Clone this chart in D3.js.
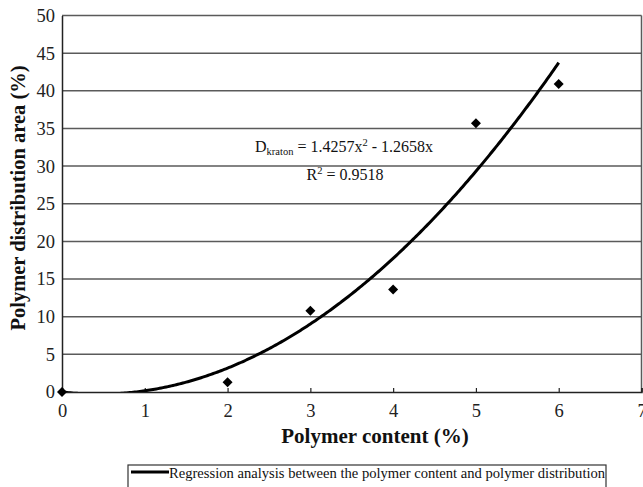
<!DOCTYPE html>
<html><head><meta charset="utf-8">
<script src="https://cdn.jsdelivr.net/npm/d3@7"></script>
<style>body{margin:0;background:#fff}svg{display:block}svg text{font-family:"Liberation Serif","Times New Roman",Times,serif !important}</style>
</head><body><svg id="c" width="643" height="487"></svg>
<script>
const xValues = [0, 2, 3, 4, 5, 6];
const yValues = [0, 1.3, 10.8, 13.6, 35.7, 40.9];
const xTicks = [0, 1, 2, 3, 4, 5, 6, 7];
const yTicks = [0, 5, 10, 15, 20, 25, 30, 35, 40, 45, 50];
const coefA = 1.4257, coefB = -1.2658;
const equationMain = "D", equationSub = "kraton", equationRest = " = 1.4257x", equationTail = " - 1.2658x";
const r2Text = "R", r2Rest = " = 0.9518";
const xTitle = "Polymer content (%)";
const yTitle = "Polymer distribution area (%)";
const legendLabel = "Regression analysis between the polymer content and polymer distribution";

const FONT = '"Liberation Serif","Times New Roman",Times,serif';
const svg = d3.select("#c");
const L = 62, R = 641.5, T = 15.5, B = 392;
const x = d3.scaleLinear().domain([0, 7]).range([L, R]);
const y = d3.scaleLinear().domain([0, 50]).range([B, T]);

// gridlines
svg.append("g").selectAll("line").data(yTicks.filter(d => d > 0)).join("line")
  .attr("x1", L).attr("x2", R).attr("y1", d => y(d)).attr("y2", d => y(d))
  .attr("stroke", "#5a5a5a").attr("stroke-width", 1.5);
// right border
svg.append("line").attr("x1", R).attr("x2", R).attr("y1", T).attr("y2", B)
  .attr("stroke", "#5a5a5a").attr("stroke-width", 1.5);

// y axis
const yAxis = d3.axisLeft(y).tickValues(yTicks).tickSize(0).tickPadding(7);
const gy = svg.append("g").attr("transform", `translate(${L},0)`).call(yAxis).attr("font-family", null);
gy.select(".domain").attr("stroke", "#222").attr("stroke-width", 1.5);
gy.selectAll("text").style("font-family", FONT).style("font-size", "18.5px").attr("fill", "#222");

// x axis
const xAxis = d3.axisBottom(x).tickValues(xTicks).tickSize(-4).tickPadding(12).tickFormat(d3.format("d"));
const gx = svg.append("g").attr("transform", `translate(0,${B})`).call(xAxis).attr("font-family", null);
gx.select(".domain").attr("stroke", "#222").attr("stroke-width", 1.5);
gx.selectAll(".tick line").attr("stroke", "#222").attr("stroke-width", 1.2);
gx.selectAll("text").style("font-family", FONT).style("font-size", "18.5px").attr("fill", "#222");

// trendline clipped
svg.append("clipPath").attr("id", "clip").append("rect")
  .attr("x", L).attr("y", T).attr("width", R - L).attr("height", B - T);
const curve = d3.range(0, 6.0001, 0.02).map(v => [v, coefA * v * v + coefB * v]);
svg.append("path").datum(curve).attr("clip-path", "url(#clip)")
  .attr("d", d3.line().x(d => x(d[0])).y(d => y(Math.max(d[1], -1))))
  .attr("fill", "none").attr("stroke", "#000").attr("stroke-width", 3);

// diamonds
const dm = 5;
svg.append("g").selectAll("path").data(xValues.map((v, i) => [v, yValues[i]])).join("path")
  .attr("d", d => { const cx = x(d[0]), cy = y(d[1]); return `M${cx},${cy - dm}L${cx + dm},${cy}L${cx},${cy + dm}L${cx - dm},${cy}Z`; })
  .attr("fill", "#000");

// equation
const eq = svg.append("text").attr("x", 344).attr("y", 152).attr("text-anchor", "middle")
  .style("font-family", FONT).style("font-size", "16px").attr("fill", "#111");
eq.append("tspan").text(equationMain);
eq.append("tspan").style("font-size", "10.5px").attr("dy", 3).text(equationSub);
eq.append("tspan").attr("dy", -3).text(equationRest);
eq.append("tspan").style("font-size", "10.5px").attr("dy", -6).text("2");
eq.append("tspan").attr("dy", 6).text(equationTail);
const r2 = svg.append("text").attr("x", 345).attr("y", 180).attr("text-anchor", "middle")
  .style("font-family", FONT).style("font-size", "16px").attr("fill", "#111");
r2.append("tspan").text(r2Text);
r2.append("tspan").style("font-size", "10.5px").attr("dy", -6).text("2");
r2.append("tspan").attr("dy", 6).text(r2Rest);

// axis titles
svg.append("text").attr("x", 375).attr("y", 443).attr("text-anchor", "middle")
  .style("font-family", FONT).style("font-size", "21px").attr("font-weight", "bold").attr("fill", "#111").text(xTitle);
svg.append("text").attr("transform", "translate(25,198) rotate(-90)").attr("text-anchor", "middle")
  .style("font-family", FONT).style("font-size", "20.5px").attr("font-weight", "bold").attr("fill", "#111").text(yTitle);

// legend
svg.append("rect").attr("x", 128).attr("y", 465).attr("width", 478).attr("height", 30)
  .attr("fill", "#fff").attr("stroke", "#333").attr("stroke-width", 1.2);
svg.append("line").attr("x1", 131).attr("x2", 169).attr("y1", 472).attr("y2", 472)
  .attr("stroke", "#000").attr("stroke-width", 3);
svg.append("text").attr("x", 169).attr("y", 478).style("font-family", FONT).style("font-size", "14.6px")
  .attr("fill", "#111").text(legendLabel);
</script></body></html>
